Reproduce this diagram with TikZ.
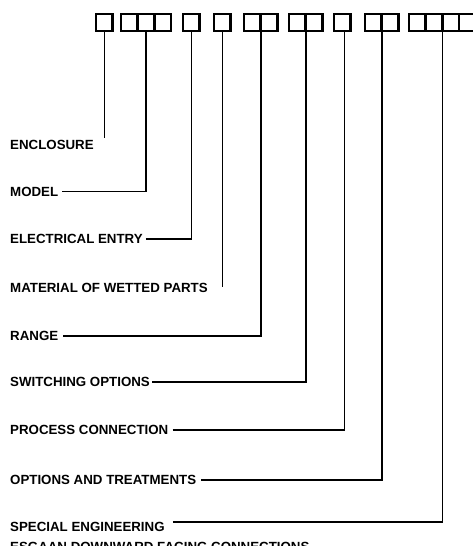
\documentclass[tikz,border=0pt]{standalone}
\usepackage{fontspec}
\setmainfont{Liberation Sans}
\usetikzlibrary{positioning}

\begin{document}
\begin{tikzpicture}[x=1pt, y=-1pt,
	digit/.style={draw, line width=2.6pt, minimum width=16.7pt, minimum height=17pt, inner sep=0pt, outer sep=0pt, anchor=north west},
	field/.style={font=\bfseries\fontsize{13.3}{15}\selectfont, anchor=west, inner sep=0pt},
	lead/.style={line width=1.6pt}]
	\useasboundingbox (0,0) rectangle (472,546);

	% code boxes
	\node[digit] (encl) at (96,14) {};
	\node[digit] (mod1) at (121,14) {};
	\node[digit, right=0pt of mod1] (mod2) {};
	\node[digit, right=0pt of mod2] (mod3) {};
	\node[digit] (elec) at (183,14) {};
	\node[digit] (matl) at (214,14) {};
	\node[digit] (rng1) at (244,14) {};
	\node[digit, right=0pt of rng1] (rng2) {};
	\node[digit] (swo1) at (289,14) {};
	\node[digit, right=0pt of swo1] (swo2) {};
	\node[digit] (proc) at (334,14) {};
	\node[digit] (opt1) at (365,14) {};
	\node[digit, right=0pt of opt1] (opt2) {};
	\node[digit] (spe1) at (409,14) {};
	\node[digit, right=0pt of spe1] (spe2) {};
	\node[digit, right=0pt of spe2] (spe3) {};
	\node[digit, right=0pt of spe3] (spe4) {};

	% field names
	\node[field] (enclosure) at (10,145) {ENCLOSURE};
	\node[field] (model) at (10,191.5) {MODEL};
	\node[field] (electrical) at (10,239) {ELECTRICAL ENTRY};
	\node[field] (material) at (10,288) {MATERIAL OF WETTED PARTS};
	\node[field] (range) at (10,336) {RANGE};
	\node[field] (switching) at (10,382) {SWITCHING OPTIONS};
	\node[field] (process) at (10,430) {PROCESS CONNECTION};
	\node[field] (options) at (10,480) {OPTIONS AND TREATMENTS};
	\node[field] (special) at (10,527) {SPECIAL ENGINEERING};
	\node[field] (esgaan) at (10,547) {ESGAAN DOWNWARD FACING CONNECTIONS};

	\path (encl.south) ++(0,107) coordinate (enclend);
	\path (matl.south) ++(0,256) coordinate (matlend);

	% leads
	\draw[lead] (encl.south) -- (enclend);
	\draw[lead] ([xshift=4pt]model.east) -| (mod2.south);
	\draw[lead] ([xshift=3pt]electrical.east) -| (elec.south);
	\draw[lead] (matl.south) -- (matlend);
	\draw[lead] ([xshift=5pt]range.east) -| (rng1.south east);
	\draw[lead] ([xshift=2pt]switching.east) -| (swo1.south east);
	\draw[lead] ([xshift=4pt]process.east) -| ([xshift=2pt]proc.south);
	\draw[lead] ([xshift=5pt]options.east) -| (opt1.south east);
	\draw[lead] ([xshift=8pt]special.north east) -| (spe2.south east);
\end{tikzpicture}
\end{document}
